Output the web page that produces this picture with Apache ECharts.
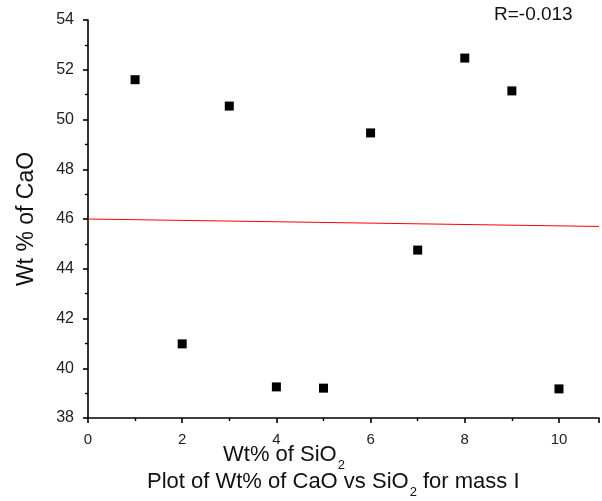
<!DOCTYPE html>
<html><head><meta charset="utf-8">
<script src="https://cdn.jsdelivr.net/npm/echarts@6/dist/echarts.min.js"></script>
<style>html,body{margin:0;padding:0;background:#fff}#c{width:602px;height:501px}</style>
</head><body><div id="c"></div>
<script>
var sio2 = [1, 2, 3, 4, 5, 6, 7, 8, 9, 10];
var cao = [51.6, 40.98, 50.54, 39.25, 39.2, 49.46, 44.75, 52.47, 51.15, 39.17];
var fitX = [0, 10.85];
var fitY = [46.0, 45.7];
var xTicks = [0, 2, 4, 6, 8, 10];
var yTicks = [38, 40, 42, 44, 46, 48, 50, 52, 54];

var chart = echarts.init(document.getElementById('c'));
var ff = 'Liberation Sans, Arial, sans-serif';
var rich = {
  a: {fontSize: 22, fontFamily: ff, fill: '#111', lineHeight: 24, verticalAlign: 'top'},
  s: {fontSize: 13, fontFamily: ff, fill: '#111', lineHeight: 13, verticalAlign: 'top', padding: [15, 0, 0, 1]}
};
chart.setOption({
  animation: false,
  grid: {left: 88, top: 20, right: 0, bottom: 83, containLabel: false},
  xAxis: {
    type: 'value', min: 0, max: 10.85, interval: 2,
    axisLine: {lineStyle: {color: '#000', width: 1.6}},
    axisTick: {show: true, length: 5, inside: false, lineStyle: {color: '#000', width: 1.6}},
    minorTick: {show: true, splitNumber: 2, length: 3, lineStyle: {color: '#000', width: 1.4}},
    splitLine: {show: false},
    axisLabel: {color: '#222', fontSize: 15, fontFamily: ff, margin: 14,
      formatter: function(v){ return xTicks.indexOf(v) >= 0 ? String(v) : ''; }}
  },
  yAxis: {
    type: 'value', min: 38, max: 54, interval: 2,
    axisLine: {show: true, lineStyle: {color: '#000', width: 1.6}},
    axisTick: {show: true, length: 5, inside: false, lineStyle: {color: '#000', width: 1.6}},
    minorTick: {show: true, splitNumber: 2, length: 3, lineStyle: {color: '#000', width: 1.4}},
    splitLine: {show: false},
    axisLabel: {color: '#222', fontSize: 16, fontFamily: ff, margin: 14,
      formatter: function(v){ return yTicks.indexOf(v) >= 0 ? String(v) : ''; }},
    name: 'Wt % of CaO', nameLocation: 'middle', nameGap: 50, nameRotate: 90,
    nameTextStyle: {color: '#111', fontSize: 23, fontFamily: ff}
  },
  series: [
    {type: 'scatter', symbol: 'rect', symbolSize: 9, itemStyle: {color: '#000', opacity: 1},
     data: sio2.map(function(x, i){ return [x, cao[i]]; })},
    {type: 'line', symbol: 'none', lineStyle: {color: '#ff0000', width: 1},
     data: fitX.map(function(x, i){ return [x, fitY[i]]; })}
  ],
  graphic: [
    {type: 'text', left: 494, top: 5, style: {text: 'R=-0.013', fontSize: 19, fontFamily: ff, fill: '#111'}},
    {type: 'text', left: 223, top: 444, style: {text: '{a|Wt% of SiO}{s|2}', rich: rich}},
    {type: 'text', left: 147, top: 471, style: {text: '{a|Plot of Wt% of CaO vs SiO}{s|2}{a| for mass I}', rich: rich}}
  ]
});
</script></body></html>
